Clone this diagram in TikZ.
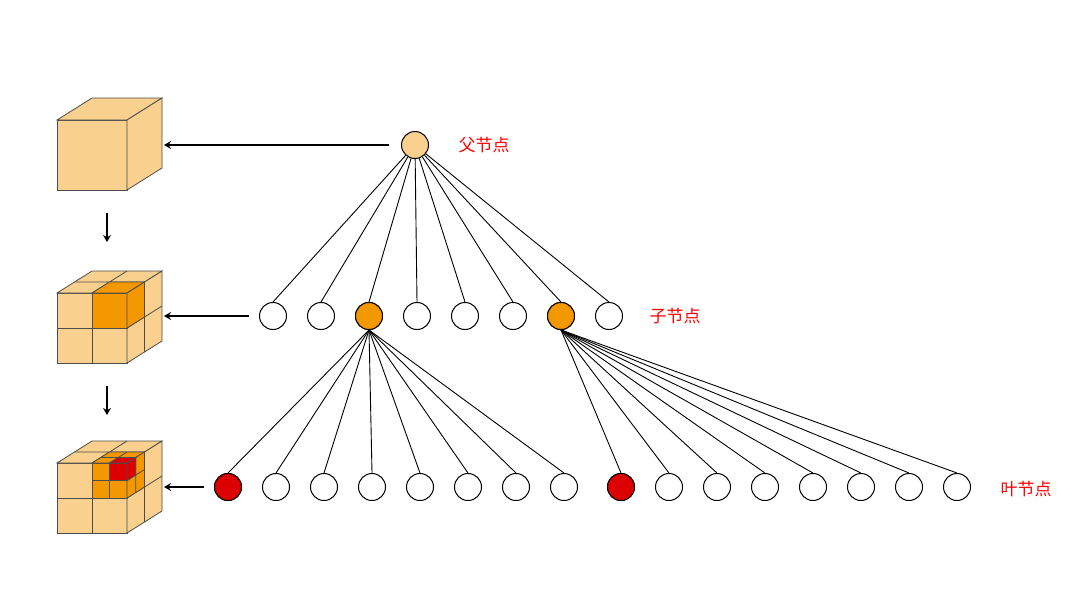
\documentclass[tikz,border=0pt]{standalone}
\usepackage{fontspec}
\newfontfamily\cjk{Noto Sans CJK SC}
\usetikzlibrary{positioning,arrows.meta}
\definecolor{pale}{HTML}{FAD08F}
\definecolor{mid}{HTML}{F39800}
\definecolor{deep}{HTML}{DD0000}
\newcommand{\blockcube}[4]{% x, y, size, colour
  \begin{scope}[shift={(#1,#2)}, scale=#3]
    \filldraw[fill=#4, draw=black!70] (0,0) rectangle (1,1);
    \filldraw[fill=#4, draw=black!70] (0,0) -- (1,0) -- (1.5,-.314) -- (.5,-.314) -- cycle;
    \filldraw[fill=#4, draw=black!70] (1,0) -- (1.5,-.314) -- (1.5,.686) -- (1,1) -- cycle;
  \end{scope}}
\newcommand{\cubegrid}[3]{% x, y, size
  \begin{scope}[shift={(#1,#2)}, scale=#3, draw=black!70]
    \draw (.5,0) -- (.5,1) (0,.5) -- (1,.5);
    \draw (.5,0) -- (1,-.314) (.25,-.157) -- (1.25,-.157);
    \draw (1.25,-.157) -- (1.25,.843) (1,.5) -- (1.5,.186);
  \end{scope}}
\tikzset{
  every neuron/.style={circle, draw, line width=1pt, minimum size=27pt, inner sep=0pt, fill=white},
  neuron hot/.style={fill=mid},
  neuron red/.style={fill=deep},
  edge/.style={line width=0.9pt},
  pointer/.style={->, line width=2.2pt},
  tag/.style={text=red, font=\cjk\fontsize{17}{20}\selectfont, anchor=west}
}
\begin{document}
\begin{tikzpicture}[x=1pt, y=-1pt, >={Stealth[length=7pt,width=8pt]}, line width=0.8pt]
\useasboundingbox (0,0) rectangle (1080,600);

% cubes
\blockcube{57}{120}{70}{pale}
\blockcube{57}{293}{70}{pale}
\cubegrid{57}{293}{70}
\blockcube{92}{293}{35}{mid}
\blockcube{57}{463}{70}{pale}
\cubegrid{57}{463}{70}
\blockcube{92}{463}{35}{mid}
\cubegrid{92}{463}{35}
\blockcube{109.5}{463}{17.5}{deep}

% tree
\node [every neuron, fill=pale] (parent) at (415,145) {};

\foreach \m in {1,...,8}
  \node [every neuron] (child-\m) at (273+48*\m-48,316) {};
\node [every neuron, neuron hot] at (child-3) {};
\node [every neuron, neuron hot] at (child-7) {};

\foreach \m in {1,...,8}
  \node [every neuron] (leaf-\m) at (228+48*\m-48,487) {};
\foreach \m in {9,...,16}
  \node [every neuron] (leaf-\m) at (621+48*\m-432,487) {};
\node [every neuron, neuron red] at (leaf-1) {};
\node [every neuron, neuron red] at (leaf-9) {};

\foreach \j in {1,...,8}
  \draw [edge] (parent) -- (child-\j.north);
\foreach \j in {1,...,8}
  \draw [edge] (child-3.south) -- (leaf-\j.north);
\foreach \j in {9,...,16}
  \draw [edge] (child-7.south) -- (leaf-\j.north);

% labels
\node [tag] (tag-parent) at (455,145) {父节点};
\node [tag] (tag-child) at (646,316) {子节点};
\node [tag] (tag-leaf) at (997,489) {叶节点};

% arrows
\coordinate (cube-1) at (164,145);
\coordinate (cube-2) at (164,316);
\coordinate (cube-3) at (164,487);
\draw [pointer] ([xshift=-12pt]parent.west) -- (cube-1);
\draw [pointer] ([xshift=-10pt]child-1.west) -- (cube-2);
\draw [pointer] ([xshift=-10pt]leaf-1.west) -- (cube-3);
\coordinate (down-1a) at (107,213);
\coordinate (down-1b) at (107,242);
\coordinate (down-2a) at (107,386);
\coordinate (down-2b) at (107,415);
\draw [pointer] (down-1a) -- (down-1b);
\draw [pointer] (down-2a) -- (down-2b);
\end{tikzpicture}
\end{document}
